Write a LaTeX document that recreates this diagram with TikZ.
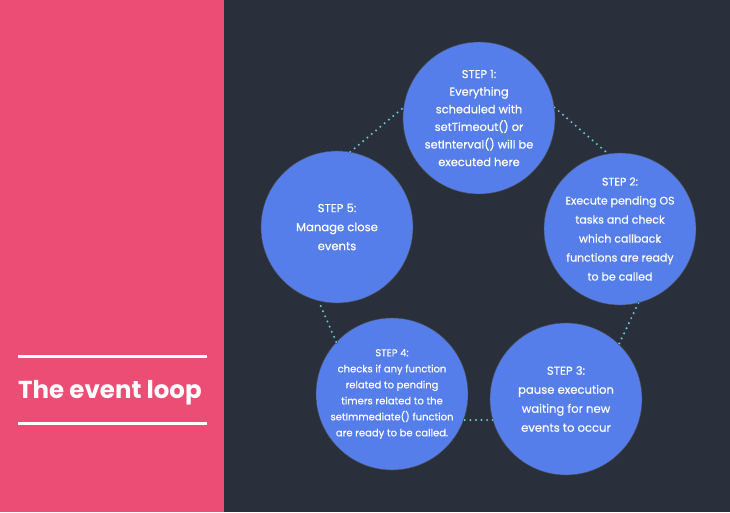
\documentclass[tikz,border=0pt]{standalone}
\usepackage{fontspec}
\setmainfont{Poppins}
\newfontfamily\stepfont{Poppins}[FakeBold=0.45]
\definecolor{pinkbg}{HTML}{EC4D74}
\definecolor{darkbg}{HTML}{2A303B}
\definecolor{stepblue}{HTML}{557EEA}
\definecolor{dotcyan}{HTML}{63CBE0}
\begin{document}
\begin{tikzpicture}[x=1pt,y=-1pt,
  stepcircle/.style={circle, fill=stepblue, draw=black!70, line width=0.4pt, minimum size=152pt, inner sep=0pt},
  steptext/.style={text=white, align=center, inner sep=0pt, font=\stepfont\fontsize{11.6}{19}\selectfont},
  steptextwide/.style={steptext, font=\stepfont\fontsize{11}{19}\selectfont},
  steptextmid/.style={steptext, font=\stepfont\fontsize{11.4}{17.6}\selectfont},
  steptextsmall/.style={steptext, font=\stepfont\fontsize{10}{16}\selectfont},
  dotdark/.style={draw=black!80, line width=3.4pt, line cap=round, dash pattern=on 0pt off 5.6pt},
  dotlight/.style={draw=dotcyan, line width=2.2pt, line cap=round, dash pattern=on 0pt off 5.6pt},
  rule/.style={draw=white, line width=3pt}]
\fill[darkbg] (0,0) rectangle (730,512);
\fill[pinkbg] (0,0) rectangle (224,512);
\useasboundingbox (0,0) rectangle (730,512);
\coordinate (r1a) at (18,356);
\coordinate (r1b) at (207,356);
\coordinate (r2a) at (18,423);
\coordinate (r2b) at (207,423);
\draw[rule] (r1a) -- (r1b);
\draw[rule] (r2a) -- (r2b);
\node[text=white, font=\fontsize{24.5}{28}\selectfont\bfseries, anchor=base west, inner sep=0pt] (title) at (18,398) {The event loop};

\node[stepcircle] (s1) at (479,118) {};
\node[stepcircle] (s2) at (620,229) {};
\node[stepcircle] (s3) at (566,399) {};
\node[stepcircle] (s4) at (392,394) {};
\node[stepcircle] (s5) at (337,227) {};

\node[steptextmid] (t1) at (s1) {STEP 1:\\Everything\\scheduled with\\setTimeout() or\\setInterval() will be\\executed here};
\node[steptextwide] (t2) at (s2) {STEP 2:\\Execute pending OS\\tasks and check\\which callback\\functions are ready\\to be called};
\node[steptext] (t3) at (s3) {STEP 3:\\pause execution\\waiting for new\\events to occur};
\node[steptextsmall] (t4) at (s4) {STEP 4:\\checks if any function\\related to pending\\timers related to the\\setImmediate() function\\are ready to be called.};
\node[steptext] (t5) at (s5) {STEP 5:\\Manage close\\events};

\foreach \a/\b in {s1.8/s2.99, s2.-76/s3.46, s3.196/s4.-20, s4.137/s5.-104, s5.80/s1.172}{
  \draw[dotdark] (\a) -- (\b);
  \draw[dotlight] (\a) -- (\b);
}
\end{tikzpicture}
\end{document}
